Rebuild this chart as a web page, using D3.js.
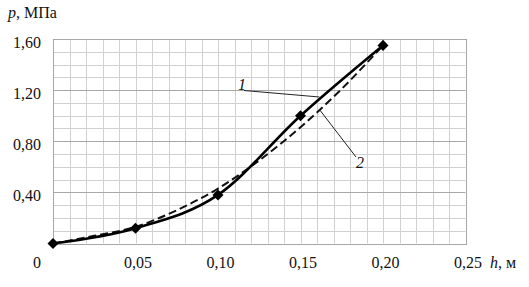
<!DOCTYPE html>
<html><head><meta charset="utf-8">
<script src="https://cdn.jsdelivr.net/npm/d3@7"></script>
<style>
html,body{margin:0;padding:0;background:#fff;}
svg{display:block;font-family:"Liberation Serif","Times New Roman",serif;}
svg text{font-family:"Liberation Serif","Times New Roman",serif;}
</style></head>
<body><div id="chart"></div>
<script>
// data
const hMeasured = [0, 0.05, 0.10, 0.15, 0.20];
const pMeasured = [0, 0.12, 0.38, 1.00, 1.55];           // curve 1 (solid, markers)
const hFit = [0, 0.025, 0.05, 0.075, 0.10, 0.125, 0.15, 0.175, 0.20];
const pFit = [0, 0.06, 0.13, 0.26, 0.43, 0.65, 0.91, 1.21, 1.55]; // curve 2 (dashed)
const xTicks = [0.05, 0.10, 0.15, 0.20, 0.25];
const xTickLabels = ["0,05", "0,10", "0,15", "0,20", "0,25"];
const yTicks = [0.40, 0.80, 1.20, 1.60];
const yTickLabels = ["0,40", "0,80", "1,20", "1,60"];

const W = 529, H = 287;
const svg = d3.select("#chart").append("svg").attr("width", W).attr("height", H);

const x = d3.scaleLinear().domain([0, 0.25]).range([53, 465.5]);
const y = d3.scaleLinear().domain([0, 1.6]).range([243.5, 39]);

// grid
const g = svg.append("g");
const vLines = d3.range(0, 26).map(i => i / 100);
const hLines = d3.range(0, 17).map(i => i / 10);
g.selectAll(".vg").data(vLines).enter().append("line")
  .attr("x1", d => Math.round(x(d)) + 0.5).attr("x2", d => Math.round(x(d)) + 0.5)
  .attr("y1", y(1.6)).attr("y2", y(0))
  .attr("stroke", "#d0d0d0").attr("stroke-width", 1);
g.selectAll(".hg").data(hLines).enter().append("line")
  .attr("x1", x(0)).attr("x2", x(0.25))
  .attr("y1", d => Math.round(y(d)) + 0.5).attr("y2", d => Math.round(y(d)) + 0.5)
  .attr("stroke", (d, i) => (i % 4 === 0) ? "#a8a8a8" : "#d0d0d0").attr("stroke-width", 1);
// border
svg.append("rect").attr("x", Math.round(x(0)) + 0.5).attr("y", Math.round(y(1.6)) + 0.5)
  .attr("width", Math.round(x(0.25)) - Math.round(x(0))).attr("height", Math.round(y(0)) - Math.round(y(1.6)))
  .attr("fill", "none").attr("stroke", "#a8a8a8");

// axis labels via d3 axes
const xAxis = d3.axisBottom(x).tickValues(xTicks).tickFormat((d, i) => xTickLabels[i]).tickSize(0).tickPadding(0);
const xa = svg.append("g").attr("transform", "translate(2,268)").call(xAxis)
  .attr("font-family", null);
xa.select(".domain").remove();
xa.selectAll("text").attr("dy", 0).attr("font-size", 16).attr("fill", "#111");

const yAxis = d3.axisLeft(y).tickValues(yTicks).tickFormat((d, i) => yTickLabels[i]).tickSize(0).tickPadding(0);
const ya = svg.append("g").attr("transform", "translate(41,3)").call(yAxis)
  .attr("font-family", null);
ya.select(".domain").remove();
ya.selectAll("text").attr("font-size", 16).attr("fill", "#111");

// origin label
svg.append("text").attr("x", 37).attr("y", 268).attr("text-anchor", "middle")
  .attr("font-size", 16).attr("fill", "#111").text("0");

// axis titles
const yt = svg.append("text").attr("x", 8).attr("y", 18).attr("font-size", 16).attr("fill", "#111");
yt.append("tspan").attr("font-style", "italic").text("p");
yt.append("tspan").text(", МПа");
const xt = svg.append("text").attr("x", 490).attr("y", 268).attr("font-size", 16).attr("fill", "#111");
xt.append("tspan").attr("font-style", "italic").text("h");
xt.append("tspan").text(", м");

// curves
const fitData = hFit.map((h, i) => [h, pFit[i]]);
const measData = hMeasured.map((h, i) => [h, pMeasured[i]]);
const line2 = d3.line().x(d => x(d[0])).y(d => y(d[1])).curve(d3.curveMonotoneX);
const line1 = d3.line().x(d => x(d[0])).y(d => y(d[1])).curve(d3.curveCatmullRom.alpha(0));

svg.append("path").datum(fitData).attr("d", line2).attr("fill", "none")
  .attr("stroke", "#111").attr("stroke-width", 2).attr("stroke-dasharray", "8,4");
svg.append("path").datum(measData).attr("d", line1).attr("fill", "none")
  .attr("stroke", "#000").attr("stroke-width", 2.6);

svg.selectAll(".mk").data(measData).enter().append("path")
  .attr("transform", d => `translate(${x(d[0])},${y(d[1])})`)
  .attr("d", d3.symbol().type(d3.symbolDiamond2).size(78))
  .attr("fill", "#000");

// callouts
svg.append("line").attr("x1", 244).attr("y1", 90.5).attr("x2", x(0.1615)).attr("y2", 97)
  .attr("stroke", "#222").attr("stroke-width", 1);
svg.append("text").attr("x", 242).attr("y", 90).attr("text-anchor", "middle")
  .attr("font-size", 16).attr("font-style", "italic").attr("fill", "#111").text("1");
svg.append("line").attr("x1", x(0.1617)).attr("y1", 110).attr("x2", 356).attr("y2", 157)
  .attr("stroke", "#222").attr("stroke-width", 1);
svg.append("text").attr("x", 360).attr("y", 168).attr("text-anchor", "middle")
  .attr("font-size", 16).attr("font-style", "italic").attr("fill", "#111").text("2");
</script></body></html>
